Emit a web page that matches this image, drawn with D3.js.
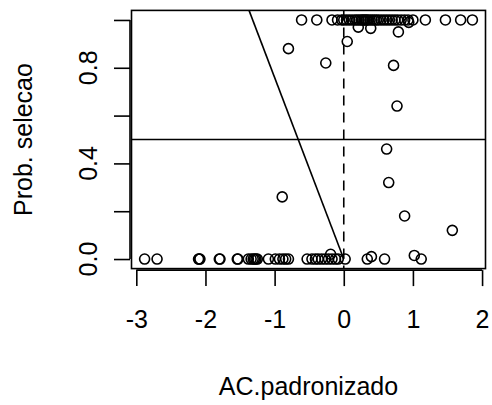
<!DOCTYPE html>
<html>
<head>
<meta charset="utf-8">
<script src="https://d3js.org/d3.v7.min.js"></script>
<style>
body { margin: 0; background: #fff; }
svg text { font-family: "Liberation Sans", Arial, sans-serif; fill: #000; }
</style>
</head>
<body>
<svg id="chart" width="492" height="405"></svg>
<script>
// points at prob = 1
var acTop = [-0.61, -0.39, -0.17, -0.09, -0.03, 0.0, 0.04, 0.08, 0.12, 0.16, 0.19, 0.22,
  0.25, 0.27, 0.29, 0.31, 0.33, 0.35, 0.38, 0.41, 0.44, 0.47, 0.5, 0.54, 0.58, 0.62,
  0.66, 0.7, 0.74, 0.78, 0.83, 0.88, 0.93, 1.0, 1.18, 1.47, 1.69, 1.86];
// points at prob = 0
var acBottom = [-2.88, -2.70, -2.10, -2.09, -2.08, -1.80, -1.79, -1.54, -1.53, -1.38,
  -1.34, -1.31, -1.29, -1.27, -1.25, -1.09, -0.99, -0.93, -0.88, -0.84, -0.80, -0.53,
  -0.46, -0.41, -0.37, -0.32, -0.27, -0.22, -0.17, -0.12, -0.08, 0.02, 0.34, 0.59, 1.12];
// points in between
var acMid   = [0.21, 0.39, 0.79, 0.94, 0.05, -0.80, -0.26, 0.72, 0.77, 0.62, 0.65, 0.88, 1.57, -0.89, -0.19, 0.40, 1.02];
var probMid = [0.97, 0.965, 0.95, 0.99, 0.91, 0.88, 0.82, 0.81, 0.64, 0.46, 0.32, 0.18, 0.12, 0.26, 0.02, 0.01, 0.015];

var xTicks = [-3, -2, -1, 0, 1, 2];
var yTicks = [0, 0.2, 0.4, 0.6, 0.8, 1.0];
var yLabels = [0, 0.4, 0.8];

// fitted segment
var lineX = [0, -1.37];
var lineY = [0, 1.04];
var hLine = 0.5, vLine = 0;

var svg = d3.select('#chart');

var x = d3.scaleLinear().domain([-3.0696, 2.0496]).range([131.5, 485.5]);
var y = d3.scaleLinear().domain([-0.04, 1.04]).range([268.6, 10.4]);

var pts = [];
acTop.forEach(function(d) { pts.push([d, 1]); });
acBottom.forEach(function(d) { pts.push([d, 0]); });
acMid.forEach(function(d, i) { pts.push([d, probMid[i]]); });

svg.append('clipPath').attr('id', 'clip')
  .append('rect')
  .attr('x', x.range()[0]).attr('y', y.range()[1])
  .attr('width', x.range()[1] - x.range()[0])
  .attr('height', y.range()[0] - y.range()[1]);

var plot = svg.append('g').attr('clip-path', 'url(#clip)');

plot.selectAll('circle')
  .data(pts)
  .enter().append('circle')
  .attr('cx', function(d) { return x(d[0]); })
  .attr('cy', function(d) { return y(d[1]); })
  .attr('r', 5)
  .attr('fill', 'none')
  .attr('stroke', '#000')
  .attr('stroke-width', 1.6);

plot.append('line')
  .attr('x1', x.range()[0]).attr('x2', x.range()[1])
  .attr('y1', y(hLine)).attr('y2', y(hLine))
  .attr('stroke', '#000').attr('stroke-width', 1.6);

plot.append('line')
  .attr('x1', x(vLine)).attr('x2', x(vLine))
  .attr('y1', y.range()[1]).attr('y2', y.range()[0])
  .attr('stroke', '#000').attr('stroke-width', 1.6)
  .attr('stroke-dasharray', '10,7');

plot.append('line')
  .attr('x1', x(lineX[0])).attr('y1', y(lineY[0]))
  .attr('x2', x(lineX[1])).attr('y2', y(lineY[1]))
  .attr('stroke', '#000').attr('stroke-width', 1.6);

// box
svg.append('rect')
  .attr('x', x.range()[0]).attr('y', y.range()[1])
  .attr('width', x.range()[1] - x.range()[0])
  .attr('height', y.range()[0] - y.range()[1])
  .attr('fill', 'none').attr('stroke', '#000').attr('stroke-width', 1.6);

// x axis
var xAxis = d3.axisBottom(x).tickValues(xTicks).tickSize(16).tickPadding(24)
  .tickFormat(d3.format('d'));
var gx = svg.append('g')
  .attr('transform', 'translate(0,' + (y.range()[0] + 1.5) + ')')
  .call(xAxis);
gx.select('.domain').attr('d', 'M' + x(-3) + ',0H' + x(2)).attr('stroke-width', 1.6);
gx.selectAll('.tick line').attr('stroke-width', 1.6);
gx.selectAll('.tick text').attr('font-size', 25).style('font-family', '"Liberation Sans", Arial, sans-serif')
  .text(function(d) { return d < 0 ? '-' + Math.abs(d) : d; });

// y axis
var yAxis = d3.axisLeft(y).tickValues(yTicks).tickSize(16).tickFormat('');
var gy = svg.append('g')
  .attr('transform', 'translate(' + (x.range()[0] - 1.5) + ',0)')
  .call(yAxis);
gy.select('.domain').attr('d', 'M0,' + y(0) + 'V' + y(1)).attr('stroke-width', 1.6);
gy.selectAll('.tick line').attr('stroke-width', 1.6);

svg.selectAll('.ylab')
  .data(yLabels)
  .enter().append('text')
  .attr('class', 'ylab')
  .attr('transform', function(d) { return 'translate(97,' + y(d) + ') rotate(-90)'; })
  .attr('text-anchor', 'middle')
  .attr('font-size', 25)
  .text(d3.format('.1f'));

svg.append('text')
  .attr('x', (x.range()[0] + x.range()[1]) / 2)
  .attr('y', 395)
  .attr('text-anchor', 'middle')
  .attr('font-size', 25)
  .text('AC.padronizado');

svg.append('text')
  .attr('transform', 'translate(32,' + (y.range()[0] + y.range()[1]) / 2 + ') rotate(-90)')
  .attr('text-anchor', 'middle')
  .attr('font-size', 25)
  .text('Prob. selecao');
</script>
</body>
</html>
